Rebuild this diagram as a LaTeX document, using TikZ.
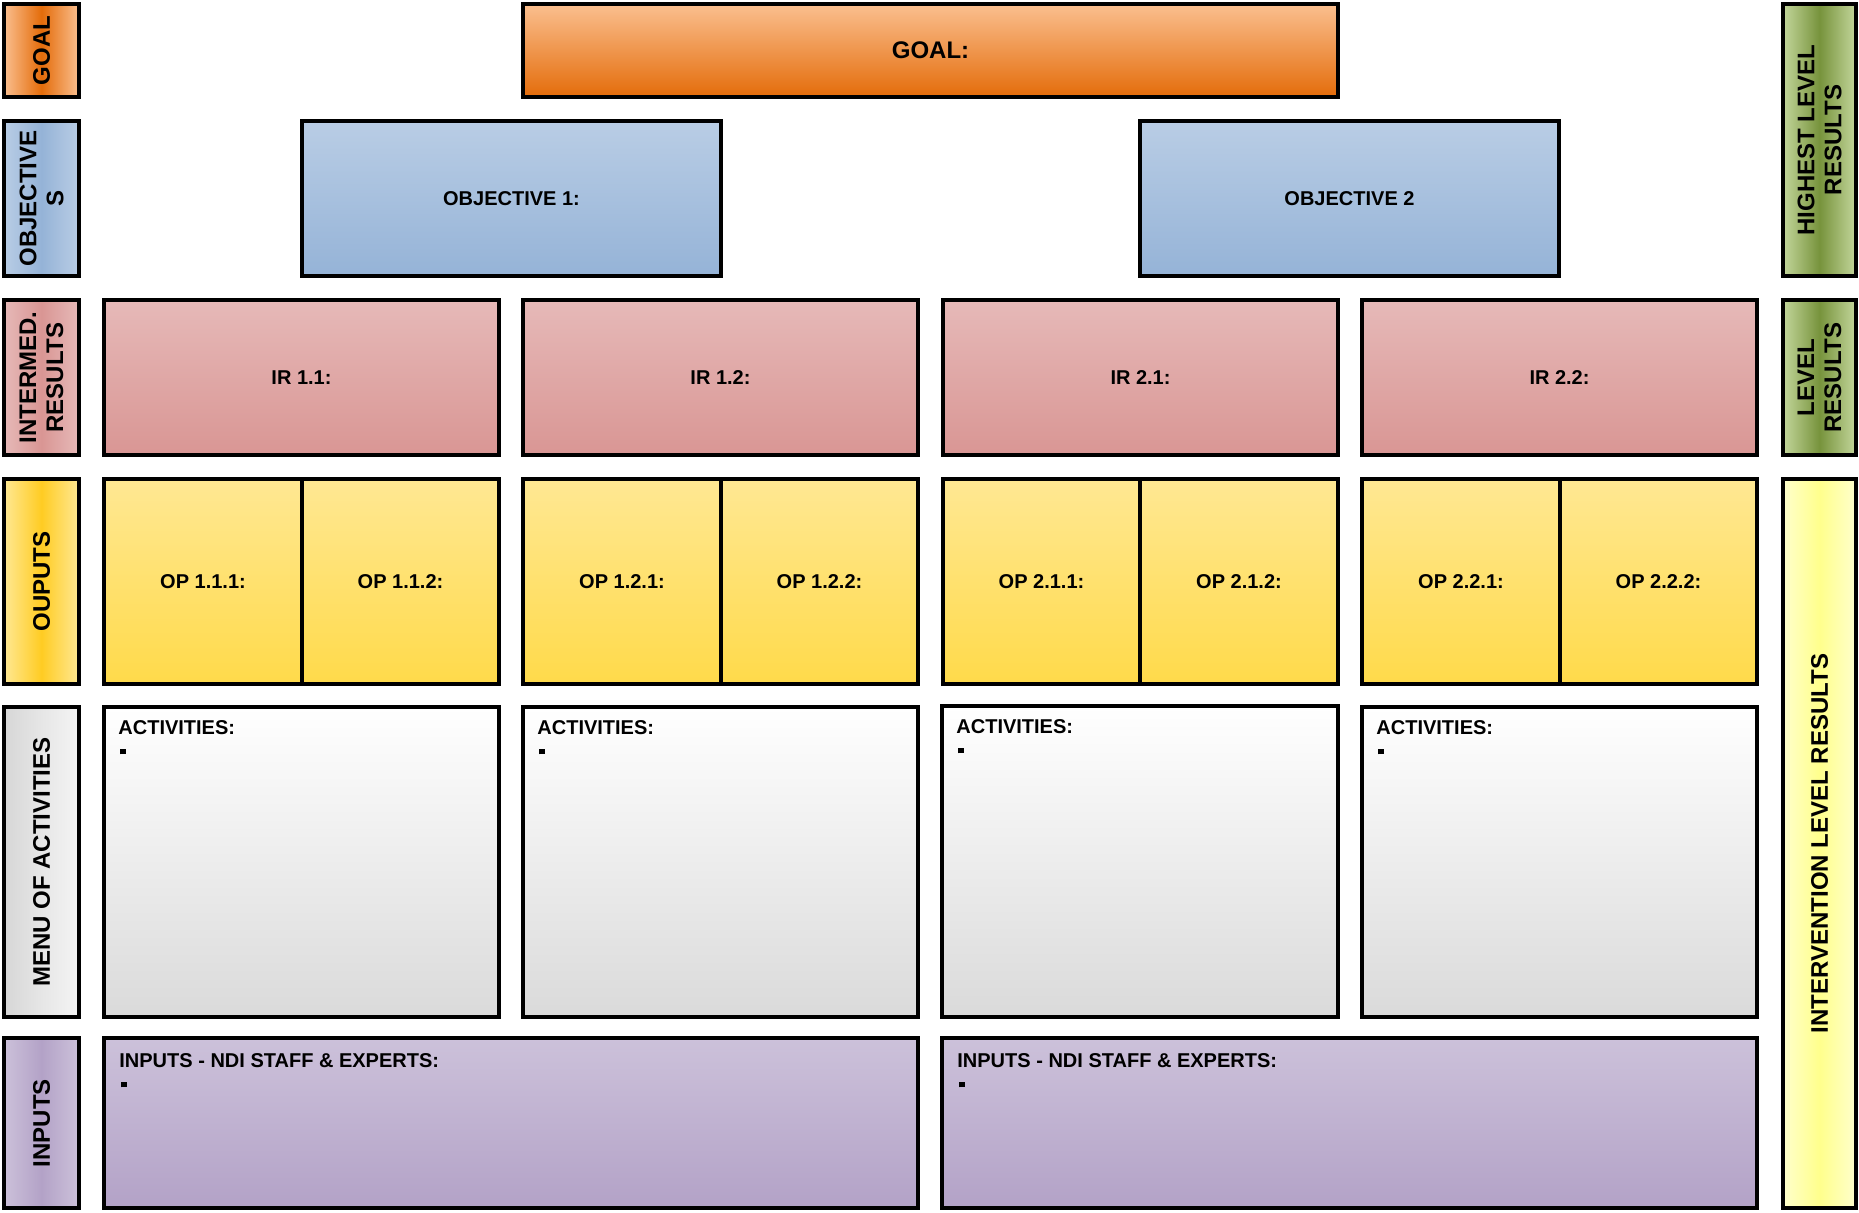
\documentclass[tikz,border=0pt]{standalone}
\usepackage{fontspec}
\setmainfont{Liberation Sans}
\usetikzlibrary{calc}

% palette
\definecolor{goalTop}{HTML}{FABF8F}
\definecolor{goalBot}{HTML}{E46C0A}
\definecolor{objTop}{HTML}{B9CDE5}
\definecolor{objBot}{HTML}{95B3D7}
\definecolor{irTop}{HTML}{E6B9B8}
\definecolor{irBot}{HTML}{D99694}
\definecolor{opTop}{HTML}{FFE893}
\definecolor{opBot}{HTML}{FFDA4A}
\definecolor{opMid}{HTML}{FFCC22}
\definecolor{actBot}{HTML}{DADADA}
\definecolor{inTop}{HTML}{CCC1DA}
\definecolor{inBot}{HTML}{B3A2C7}
\definecolor{grnEdge}{HTML}{C3D69B}
\definecolor{grnMid}{HTML}{77933C}
\definecolor{ivEdge}{HTML}{FFFFCC}
\definecolor{ivMid}{HTML}{FFFF8C}
\definecolor{menuL}{HTML}{D6D6D6}
\definecolor{menuM}{HTML}{E6E6E6}
\definecolor{menuR}{HTML}{F4F4F4}

% one box from (x1,y1) to (x2,y2), in pixel units, y pointing down
\newcommand\cellbox[7]{%
  \node[#6, minimum width={(#4-#2)*0.5pt}, minimum height={(#5-#3)*0.5pt}]
    (#1) at ({(#2+#4)/2},{(#3+#5)/2}) {#7};}

\begin{document}
\begin{tikzpicture}[x=0.5pt,y=-0.5pt,
  frame/.style={draw=black, line width=1.9pt, inner sep=0pt, outer sep=0pt},
  maintext/.style={font=\fontsize{10}{12}\selectfont\bfseries},
  goalbox/.style={frame, top color=goalTop, bottom color=goalBot,
    font=\fontsize{12}{14}\selectfont\bfseries},
  objbox/.style={frame, top color=objTop, bottom color=objBot, maintext},
  irbox/.style={frame, top color=irTop, bottom color=irBot, maintext},
  opbox/.style={frame, top color=opTop, bottom color=opBot, maintext},
  actbox/.style={frame, top color=white, bottom color=actBot},
  inbox/.style={frame, top color=inTop, bottom color=inBot},
  sidegoal/.style={frame, left color=goalTop, right color=goalTop, middle color=goalBot},
  sideobj/.style={frame, left color=objTop, right color=objTop, middle color=objBot},
  sideir/.style={frame, left color=irTop, right color=irTop, middle color=irBot},
  sideop/.style={frame, left color=opTop, right color=opTop, middle color=opMid},
  sidemenu/.style={frame, left color=menuL, right color=menuR, middle color=menuM},
  sidein/.style={frame, left color=inTop, right color=inTop, middle color=inBot},
  sidegrn/.style={frame, left color=grnEdge, right color=grnEdge, middle color=grnMid},
  sideiv/.style={frame, left color=ivEdge, right color=ivEdge, middle color=ivMid},
  sidetext/.style={rotate=90, align=center, inner sep=0pt,
    font=\fontsize{12}{13.5}\selectfont\bfseries},
  cornertext/.style={anchor=north west, align=left, inner sep=0pt,
    font=\fontsize{10}{10}\selectfont\bfseries}
]
\useasboundingbox (0,0) rectangle (1859,1212);

% ---- left column of row titles
\cellbox{lGoal}{4}{4}{79}{97}{sidegoal}{}
\cellbox{lObj}{4}{121}{79}{276}{sideobj}{}
\cellbox{lIr}{4}{300}{79}{455}{sideir}{}
\cellbox{lOp}{4}{479}{79}{684}{sideop}{}
\cellbox{lMenu}{4}{707}{79}{1017}{sidemenu}{}
\cellbox{lIn}{4}{1038}{79}{1208}{sidein}{}
\node[sidetext] (lGoalT) at (lGoal) {GOAL};
\node[sidetext] (lObjT) at (lObj) {OBJECTIVE\\S};
\node[sidetext] (lIrT) at (lIr) {INTERMED.\\RESULTS};
\node[sidetext] (lOpT) at (lOp) {OUPUTS};
\node[sidetext] (lMenuT) at (lMenu) {MENU OF ACTIVITIES};
\node[sidetext] (lInT) at (lIn) {INPUTS};

% ---- right column of result levels
\cellbox{rHigh}{1783}{4}{1856}{276}{sidegrn}{}
\cellbox{rLevel}{1783}{300}{1856}{455}{sidegrn}{}
\cellbox{rIv}{1783}{479}{1856}{1208}{sideiv}{}
\node[sidetext] (rHighT) at (rHigh) {HIGHEST LEVEL\\RESULTS};
\node[sidetext] (rLevelT) at (rLevel) {LEVEL\\RESULTS};
\node[sidetext] (rIvT) at (rIv) {INTERVENTION LEVEL RESULTS};

% ---- goal and objectives
\cellbox{goal}{523}{4}{1338}{97}{goalbox}{GOAL:}
\cellbox{obj1}{302}{121}{721}{276}{objbox}{OBJECTIVE 1:}
\cellbox{obj2}{1140}{121}{1559}{276}{objbox}{OBJECTIVE 2}

% ---- intermediate results
\cellbox{ir11}{104}{300}{499}{455}{irbox}{IR 1.1:}
\cellbox{ir12}{523}{300}{918}{455}{irbox}{IR 1.2:}
\cellbox{ir21}{943}{300}{1338}{455}{irbox}{IR 2.1:}
\cellbox{ir22}{1362}{300}{1757}{455}{irbox}{IR 2.2:}

% ---- outputs
\cellbox{op111}{104}{479}{302}{684}{opbox}{OP 1.1.1:}
\cellbox{op112}{302}{479}{499}{684}{opbox}{OP 1.1.2:}
\cellbox{op121}{523}{479}{721}{684}{opbox}{OP 1.2.1:}
\cellbox{op122}{721}{479}{918}{684}{opbox}{OP 1.2.2:}
\cellbox{op211}{943}{479}{1140}{684}{opbox}{OP 2.1.1:}
\cellbox{op212}{1140}{479}{1338}{684}{opbox}{OP 2.1.2:}
\cellbox{op221}{1362}{479}{1560}{684}{opbox}{OP 2.2.1:}
\cellbox{op222}{1560}{479}{1757}{684}{opbox}{OP 2.2.2:}

% ---- activities
\cellbox{act1}{104}{707}{499}{1017}{actbox}{}
\cellbox{act2}{523}{707}{918}{1017}{actbox}{}
\cellbox{act3}{942}{706}{1338}{1017}{actbox}{}
\cellbox{act4}{1362}{707}{1757}{1017}{actbox}{}
\foreach \b in {act1,act2,act3,act4}
  \node[cornertext] (\b t) at ([xshift=7pt,yshift=-6.5pt]\b.north west)
    {ACTIVITIES:\\\hspace*{1pt}\rule{2.8pt}{2.8pt}};

% ---- inputs
\cellbox{in1}{104}{1038}{918}{1208}{inbox}{}
\cellbox{in2}{942}{1038}{1757}{1208}{inbox}{}
\foreach \b in {in1,in2}
  \node[cornertext] (\b t) at ([xshift=7.5pt,yshift=-7.5pt]\b.north west)
    {INPUTS - NDI STAFF \& EXPERTS:\\\hspace*{1pt}\rule{2.8pt}{2.8pt}};
\end{tikzpicture}
\end{document}
